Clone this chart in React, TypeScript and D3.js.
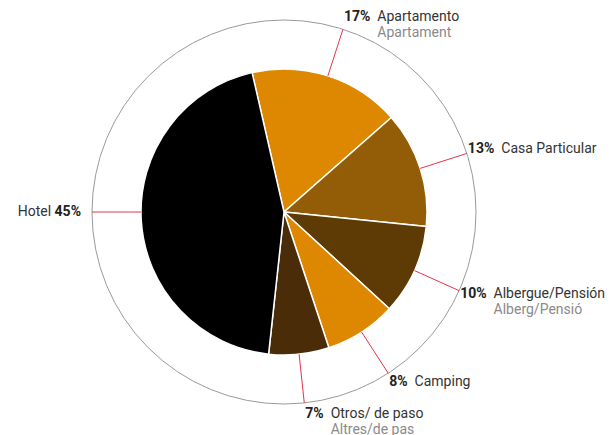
import React, { useEffect, useRef } from 'react';
import * as d3 from 'd3';

const categories = ['Apartamento', 'Casa Particular', 'Albergue/Pensión', 'Camping', 'Otros/ de paso', 'Hotel'];
const subLabels = ['Apartament', '', 'Alberg/Pensió', '', 'Altres/de pas', ''];
const values = [17.1, 13.1, 10.2, 8.1, 6.8, 44.7];
const pctLabels = ['17%', '13%', '10%', '8%', '7%', '45%'];
const colors = ['#dd8800', '#935c06', '#5e3a05', '#dd8800', '#4a2d08', '#000000'];

const W = 614;
const H = 435;

export default function App() {
  const svgRef = useRef<SVGSVGElement>(null);

  useEffect(() => {
    if (!svgRef.current) return;
    const svg = d3.select(svgRef.current);
    svg.selectAll('*').remove();

    const cx = 284, cy = 212;
    const r = 143, outerR = 192;
    const start = (-12.9 * Math.PI) / 180;

    const rows = categories.map((c, i) => ({ name: c, sub: subLabels[i], value: values[i], pct: pctLabels[i], color: colors[i] }));
    const pie = d3.pie<typeof rows[0]>().value(d => d.value).sort(null)
      .startAngle(start).endAngle(start + 2 * Math.PI);
    const arcs = pie(rows);
    const arc = d3.arc<d3.PieArcDatum<typeof rows[0]>>().innerRadius(0).outerRadius(r);

    const g = svg.append('g').attr('transform', `translate(${cx},${cy})`);

    // outer ring
    g.append('circle').attr('r', outerR).attr('fill', 'none')
      .attr('stroke', '#9a9a9a').attr('stroke-width', 1);

    // slices
    g.selectAll('path.slice').data(arcs).join('path')
      .attr('class', 'slice')
      .attr('d', arc)
      .attr('fill', d => d.data.color)
      .attr('stroke', '#ffffff')
      .attr('stroke-width', 1.5);

    // leader angle: mid-angle, snapped to horizontal when close to 9 / 3 o'clock
    const leaderAngle = (d: d3.PieArcDatum<typeof rows[0]>) => {
      let a = (d.startAngle + d.endAngle) / 2;
      const norm = ((a % (2 * Math.PI)) + 2 * Math.PI) % (2 * Math.PI);
      const snap = (5 * Math.PI) / 180;
      if (Math.abs(norm - 1.5 * Math.PI) < snap) a = 1.5 * Math.PI;
      if (Math.abs(norm - 0.5 * Math.PI) < snap) a = 0.5 * Math.PI;
      return a;
    };

    g.selectAll('line.leader').data(arcs).join('line')
      .attr('class', 'leader')
      .attr('x1', d => Math.sin(leaderAngle(d)) * r)
      .attr('y1', d => -Math.cos(leaderAngle(d)) * r)
      .attr('x2', d => Math.sin(leaderAngle(d)) * outerR)
      .attr('y2', d => -Math.cos(leaderAngle(d)) * outerR)
      .attr('stroke', '#e6334d')
      .attr('stroke-width', 1);

    // labels
    const font = 'Roboto, "Noto Sans", sans-serif';
    arcs.forEach(d => {
      const a = leaderAngle(d);
      const ex = Math.sin(a) * outerR;
      const ey = -Math.cos(a) * outerR;
      const right = Math.sin(a) >= 0;
      const y = ey - Math.cos(a) * 12 - 2;
      const lg = g.append('g').style('font-family', font).style('font-size', '14px');
      if (right) {
        const x = ex + 1;
        const p = lg.append('text').attr('x', x).attr('y', y).attr('dy', '0.35em')
          .attr('font-weight', 700).attr('fill', '#222').text(d.data.pct);
        const pw = (p.node() as SVGTextElement).getComputedTextLength();
        const nx = x + pw + 7;
        lg.append('text').attr('x', nx).attr('y', y).attr('dy', '0.35em')
          .attr('fill', '#333').text(d.data.name);
        if (d.data.sub) {
          lg.append('text').attr('x', nx).attr('y', y + 16).attr('dy', '0.35em')
            .attr('fill', '#8a8a8a').text(d.data.sub);
        }
      } else {
        const t = lg.append('text').attr('x', ex - 11).attr('y', y + 1).attr('dy', '0.35em')
          .attr('text-anchor', 'end').attr('fill', '#333');
        t.append('tspan').text(d.data.name + ' ');
        t.append('tspan').attr('font-weight', 700).attr('fill', '#222').text(d.data.pct);
      }
    });
  }, []);

  return (
    <svg
      ref={svgRef}
      width={W}
      height={H}
      style={{ position: 'absolute', left: 0, top: 0, background: '#fff' }}
    />
  );
}
